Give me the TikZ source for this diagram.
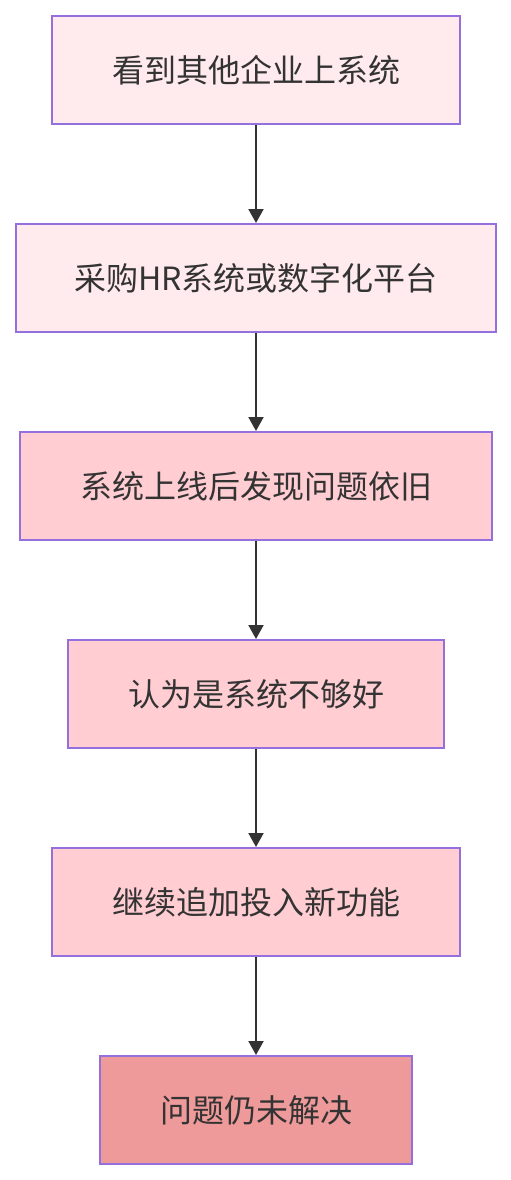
\documentclass[tikz,border=0pt]{standalone}
\usepackage{fontspec}
\setmainfont{Noto Sans CJK SC}
\usetikzlibrary{calc,arrows.meta}
\definecolor{lightpink}{HTML}{FFEBEE}
\definecolor{midpink}{HTML}{FFCDD2}
\definecolor{darkpink}{HTML}{EF9A9A}
\definecolor{boxline}{HTML}{9370DB}
\definecolor{arrowgray}{HTML}{333333}
\tikzset{
  stepbox/.style={draw=boxline,line width=2pt,rectangle,minimum height=108pt,
    text=arrowgray,font=\fontsize{32}{38}\selectfont,inner sep=0pt},
  flow/.style={draw=arrowgray,line width=2pt,-{Triangle[length=14pt,width=15pt]}}
}

\begin{document}
\begin{tikzpicture}[x=1pt,y=-1pt]
  \useasboundingbox (0,0) rectangle (511,1180);
  \node[stepbox,fill=lightpink,minimum width=408pt] (S1) at (256,70) {看到其他企业上系统};
  \node[stepbox,fill=lightpink,minimum width=480pt] (S2) at ($(S1)+(0,208)$) {采购HR系统或数字化平台};
  \node[stepbox,fill=midpink,minimum width=472pt] (S3) at ($(S2)+(0,208)$) {系统上线后发现问题依旧};
  \node[stepbox,fill=midpink,minimum width=376pt] (S4) at ($(S3)+(0,208)$) {认为是系统不够好};
  \node[stepbox,fill=midpink,minimum width=408pt] (S5) at ($(S4)+(0,208)$) {继续追加投入新功能};
  \node[stepbox,fill=darkpink,minimum width=312pt] (S6) at ($(S5)+(0,208)$) {问题仍未解决};
  \path[flow] (S1) -- (S2);
  \path[flow] (S2) -- (S3);
  \path[flow] (S3) -- (S4);
  \path[flow] (S4) -- (S5);
  \path[flow] (S5) -- (S6);
\end{tikzpicture}
\end{document}
